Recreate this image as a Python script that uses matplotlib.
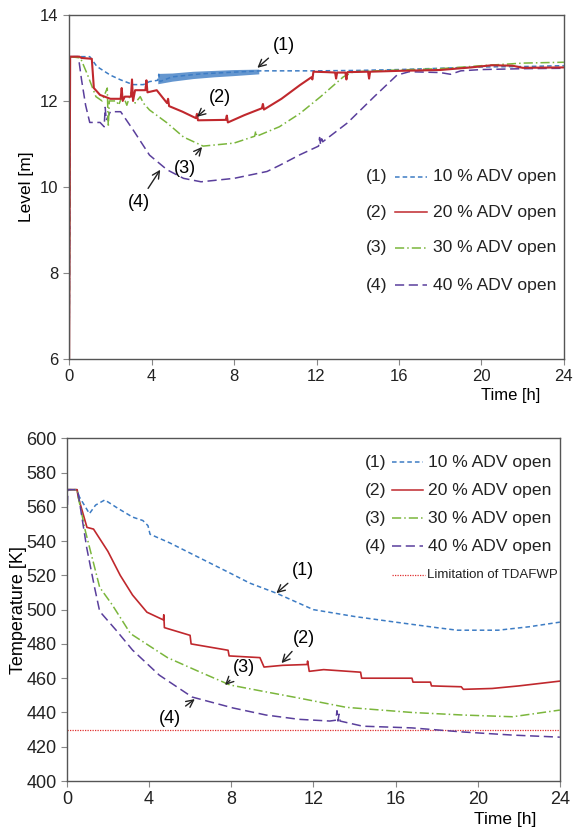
import matplotlib.pyplot as plt

plt.rcParams['font.family'] = ['Liberation Sans', 'DejaVu Sans']

# ---- level data (top plot) ----
lvl1_t = [0, 0.05, 1.0, 1.35, 2.0, 2.5, 3.1, 3.6, 3.9, 4.3, 4.35, 4.4, 5.0, 6.4, 8.0, 9.3,
          10, 12, 14, 16, 18, 20, 22, 24]
lvl1 = [6, 13.03, 13.03, 12.8, 12.6, 12.49, 12.38, 12.38, 12.45, 12.48, 12.62, 12.45, 12.56,
        12.63, 12.67, 12.70, 12.70, 12.70, 12.71, 12.73, 12.76, 12.79, 12.80, 12.82]
band_t = [4.3, 5.0, 6.0, 7.0, 8.0, 9.2]
band_lo = [12.40, 12.46, 12.52, 12.56, 12.59, 12.63]
band_hi = [12.64, 12.65, 12.69, 12.71, 12.73, 12.74]

lvl2_t = [0, 0.05, 0.5, 0.6, 1.1, 1.2, 1.5, 2.0, 2.5, 2.55, 2.6, 2.7, 3.0, 3.05, 3.1, 3.2,
          3.7, 3.75, 3.8, 4.25, 4.75, 4.8, 4.85, 5.5, 6.15, 6.2, 6.25, 7.6, 7.65, 7.7,
          8.5, 9.35, 9.4, 9.45, 10.3, 11.2, 11.75, 11.8, 11.85, 12.5, 12.9, 12.95, 13.0,
          13.4, 13.45, 13.5, 14.5, 14.55, 14.6, 16, 18, 19.5, 20.5, 21.5, 22, 24]
lvl2 = [6, 13.03, 13.03, 13.0, 12.98, 12.3, 12.14, 12.05, 12.05, 12.3, 12.0, 12.1, 12.1,
        12.5, 12.0, 12.25, 12.25, 12.48, 12.2, 12.25, 11.95, 12.05, 11.88, 11.75, 11.6,
        11.7, 11.55, 11.56, 11.66, 11.5, 11.67, 11.83, 11.93, 11.8, 12.05, 12.37, 12.55,
        12.5, 12.68, 12.67, 12.66, 12.52, 12.66, 12.66, 12.5, 12.67, 12.68, 12.52, 12.68,
        12.7, 12.72, 12.78, 12.83, 12.82, 12.77, 12.78]

lvl3_t = [0, 0.05, 0.55, 0.9, 1.3, 1.6, 1.85, 1.9, 1.95, 2.3, 2.4, 2.6, 2.8, 3.0, 3.2, 3.45,
          3.6, 3.9, 4.75, 5.55, 6.5, 8.0, 9.0, 9.05, 9.1, 10.2, 11.2, 12.2, 13.3, 13.8,
          16, 18, 20, 22, 24]
lvl3 = [6, 13.03, 13.0, 12.6, 12.1, 12.0, 12.3, 11.4, 12.0, 12.0, 11.9, 12.15, 11.9, 12.2,
        11.95, 12.1, 11.95, 11.79, 11.49, 11.16, 10.95, 11.02, 11.18, 11.3, 11.18, 11.4,
        11.71, 12.1, 12.56, 12.68, 12.72, 12.75, 12.82, 12.88, 12.9]

lvl4_t = [0, 0.05, 0.45, 0.6, 0.8, 1.0, 1.5, 1.7, 1.75, 1.8, 2.0, 2.5, 3.1, 3.9, 4.75, 5.55,
          6.4, 8.0, 9.6, 10.2, 11.2, 12.1, 12.15, 12.2, 12.25, 12.3, 13.5, 14.8, 15.9,
          16.5, 18, 18.5, 19, 20, 22, 24]
lvl4 = [6, 13.03, 13.03, 12.5, 11.9, 11.5, 11.5, 11.4, 11.85, 11.55, 11.75, 11.75, 11.33,
        10.74, 10.4, 10.2, 10.12, 10.2, 10.36, 10.5, 10.75, 10.95, 11.15, 10.98, 11.12,
        11.05, 11.49, 12.1, 12.6, 12.68, 12.66, 12.62, 12.7, 12.73, 12.75, 12.76]

# ---- temperature data (bottom plot) ----
tmp1_t = [0, 0.5, 0.6, 1.1, 1.4, 1.85, 2.5, 3.2, 3.7, 3.95, 4.05, 5, 6.5, 8, 8.9, 10.2, 12,
          14, 16, 18, 19, 21, 22.5, 24]
tmp1 = [570, 570, 566, 556, 561, 564, 559, 554, 552, 549, 544, 539, 530, 521, 515.5, 509.6,
        500, 496, 492.7, 489.5, 488, 488, 490, 492.7]

tmp2_t = [0, 0.5, 0.55, 0.98, 1.3, 2.0, 2.6, 3.2, 3.9, 4.7, 4.72, 4.75, 6.0, 6.05, 7.85, 7.9,
          9.4, 9.6, 10.5, 11.7, 11.72, 11.8, 12.5, 14.3, 14.35, 16.8, 16.85, 17.7, 17.75,
          19.2, 19.3, 20.7, 22, 24]
tmp2 = [570, 570, 566, 548, 547, 534, 520, 508.5, 498.5, 494, 497, 489.5, 485, 480, 476.3,
        473, 472, 466.5, 467.5, 468, 470, 464, 465, 463.5, 460, 460, 457.7, 457.7, 455.5,
        455, 453.5, 454, 455.5, 458.3]

tmp3_t = [0, 0.5, 0.55, 0.9, 1.6, 2.2, 3.1, 4.9, 6.5, 7.95, 9.7, 11.3, 13.6, 16.8, 19.3,
          21.7, 24]
tmp3 = [570, 570, 566, 546, 513, 503, 486, 472, 463.5, 456, 452, 448.4, 443, 440, 438.5,
        437.5, 441.4]

tmp4_t = [0, 0.02, 0.05, 0.5, 0.55, 0.97, 1.35, 1.6, 2.4, 3.2, 4.5, 6.1, 8.1, 9.7, 11.3,
          12.8, 13.1, 13.15, 13.2, 13.25, 13.3, 14.4, 16.8, 19.3, 21.7, 24]
tmp4 = [575, 556, 570, 570, 568, 536, 513, 499, 488, 476.4, 461.8, 449, 442.6, 438.5, 436,
        435, 435.5, 441, 435, 439, 435, 432, 431, 428.6, 426.8, 425.6]

t_limit = 430

labels = ['10 % ADV open', '20 % ADV open', '30 % ADV open', '40 % ADV open']
nums = ['(1)', '(2)', '(3)', '(4)']
colors = ['#3d7cc4', '#c0282d', '#7bb63c', '#5a3f9c']
styles = [(0, (3, 2)), '-', (0, (6, 2, 1, 2)), (0, (6, 3))]

fig = plt.figure(figsize=(5.76, 8.3), dpi=100)
ax1 = fig.add_axes([0.12, 0.5675, 0.859, 0.4145])
ax2 = fig.add_axes([0.116, 0.059, 0.856, 0.413])

for ax, ls in ((ax1, 12), (ax2, 13)):
    for s in ax.spines.values():
        s.set_color('#555555')
        s.set_linewidth(1.0)
    ax.tick_params(direction='out', length=4, color='#888888', labelsize=ls,
                   labelcolor='#222222')
    ax.set_xlim(0, 24)
    ax.set_xticks(range(0, 25, 4))

# top plot
ax1.fill_between(band_t, band_lo, band_hi, color=colors[0], alpha=0.8, lw=0)
ax1.plot(lvl1_t, lvl1, color=colors[0], ls=styles[0], lw=1.1)
ax1.plot(lvl4_t, lvl4, color=colors[3], ls=styles[3], lw=1.1)
ax1.plot(lvl3_t, lvl3, color=colors[2], ls=styles[2], lw=1.1)
ax1.plot(lvl2_t, lvl2, color=colors[1], ls=styles[1], lw=1.5)
ax1.set_ylim(6, 14)
ax1.set_yticks([6, 8, 10, 12, 14])
ax1.set_ylabel('Level [m]', fontsize=12.5)
ax1.yaxis.set_label_coords(-0.071, 0.5)
ax1.set_xlabel('Time [h]', fontsize=12, loc='right')
ax1.xaxis.set_label_coords(0.952, -0.085)

arr = dict(arrowstyle='->', color='#222222', lw=1.0, shrinkA=2, shrinkB=0)
fs_a = 13
ax1.annotate('(1)', xy=(9.13, 12.77), xytext=(10.4, 13.3), fontsize=fs_a,
             ha='center', va='center', arrowprops=arr)
ax1.annotate('(2)', xy=(6.2, 11.63), xytext=(7.3, 12.09), fontsize=fs_a,
             ha='center', va='center', arrowprops=arr)
ax1.annotate('(3)', xy=(6.45, 10.93), xytext=(5.6, 10.44), fontsize=fs_a,
             ha='center', va='center', arrowprops=arr)
ax1.annotate('(4)', xy=(4.42, 10.4), xytext=(3.4, 9.65), fontsize=fs_a,
             ha='center', va='center', arrowprops=arr)

rows1 = [0.529, 0.427, 0.323, 0.215]
for i in range(4):
    y = rows1[i]
    ax1.text(0.644, y, nums[i], transform=ax1.transAxes, ha='right', va='center',
             fontsize=12.6, color='#222222')
    ax1.plot([0.659, 0.723], [y, y], transform=ax1.transAxes, color=colors[i],
             ls=styles[i], lw=1.1)
    ax1.text(0.735, y, labels[i], transform=ax1.transAxes, ha='left', va='center',
             fontsize=12.6, color='#222222')

# bottom plot
ax2.axhline(t_limit, color='#e03030', ls=(0, (1, 1)), lw=0.9)
ax2.plot(tmp1_t, tmp1, color=colors[0], ls=styles[0], lw=1.1)
ax2.plot(tmp2_t, tmp2, color=colors[1], ls=styles[1], lw=1.2)
ax2.plot(tmp3_t, tmp3, color=colors[2], ls=styles[2], lw=1.1)
ax2.plot(tmp4_t, tmp4, color=colors[3], ls=styles[3], lw=1.1)
ax2.set_ylim(400, 600)
ax2.set_yticks(range(400, 601, 20))
ax2.set_ylabel('Temperature [K]', fontsize=13)
ax2.yaxis.set_label_coords(-0.080, 0.5)
ax2.set_xlabel('Time [h]', fontsize=12.5, loc='right')
ax2.xaxis.set_label_coords(0.953, -0.09)

ax2.annotate('(1)', xy=(10.2, 509.6), xytext=(11.5, 523), fontsize=fs_a,
             ha='center', va='center', arrowprops=arr)
ax2.annotate('(2)', xy=(10.45, 468.8), xytext=(11.55, 483.4), fontsize=fs_a,
             ha='center', va='center', arrowprops=arr)
ax2.annotate('(3)', xy=(7.7, 456), xytext=(8.6, 466.5), fontsize=fs_a,
             ha='center', va='center', arrowprops=arr)
ax2.annotate('(4)', xy=(6.23, 447.8), xytext=(5.0, 436.7), fontsize=fs_a,
             ha='center', va='center', arrowprops=arr)

rows2 = [0.930, 0.848, 0.767, 0.685]
for i in range(4):
    y = rows2[i]
    ax2.text(0.649, y, nums[i], transform=ax2.transAxes, ha='right', va='center',
             fontsize=12.6, color='#222222')
    ax2.plot([0.659, 0.722], [y, y], transform=ax2.transAxes, color=colors[i],
             ls=styles[i], lw=1.1)
    ax2.text(0.732, y, labels[i], transform=ax2.transAxes, ha='left', va='center',
             fontsize=12.6, color='#222222')
ax2.plot([0.659, 0.726], [0.601, 0.601], transform=ax2.transAxes, color='#e03030',
         ls=(0, (1, 1)), lw=0.9)
ax2.text(0.730, 0.601, 'Limitation of TDAFWP', transform=ax2.transAxes, ha='left',
         va='center', fontsize=9.5, color='#222222')

fig.savefig('out.png', dpi=100)
